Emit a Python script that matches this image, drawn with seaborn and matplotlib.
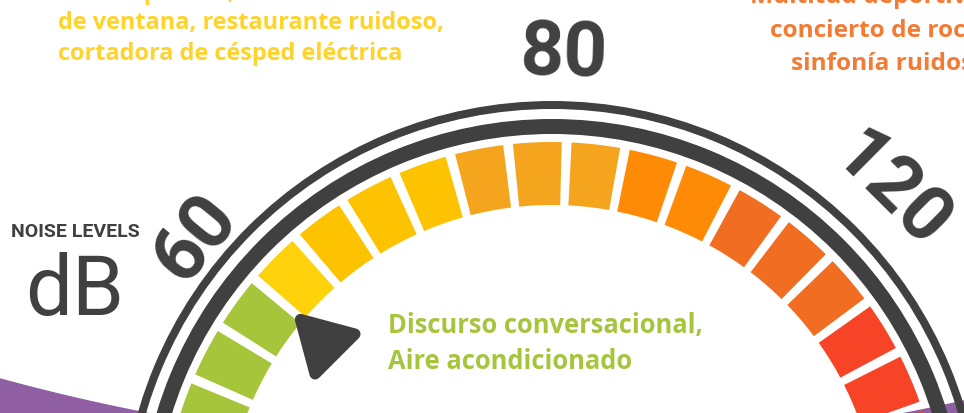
import numpy as np
import matplotlib
import matplotlib.pyplot as plt
import seaborn as sns
from matplotlib.markers import MarkerStyle

# gauge segments, left (bottom) to right (bottom)
segment_colors = ["#A7C53A", "#A7C53A", "#A7C53A", "#FFD20C",
                  "#FDC300", "#FDC300", "#FDC300",
                  "#F5A51D", "#F5A51D", "#F5A51D",
                  "#FE8A06", "#FE8A06",
                  "#F06D22", "#F06D22", "#F06D22",
                  "#F74427", "#F74427", "#F74427"]

# dB tick labels on the dial (angle measured clockwise from straight up)
gauge_labels = ["60", "80", "120"]
label_angle = [-50.5, 1.4, 44.8]
label_radius = [462, 478, 481]

# text blocks
yellow_lines = ["Tráfico pesado, aire acondicionado",
                "de ventana, restaurante ruidoso,",
                "cortadora de césped eléctrica"]
orange_lines = ["Multitud deportiva,",
                "concierto de rock,",
                "sinfonía ruidosa"]
green_lines = ["Discurso conversacional,",
               "Aire acondicionado"]

# pointer (60 dB)
pointer_angle = -50.3
pointer_radius = 297

DARK = "#404040"
PURPLE = "#8F5EA3"
W, H = 964, 413
CX, CY = 552, 532          # dial centre in pixels (below the picture)
RMAX = 500
SEG_IN, SEG_OUT = 327, 390
FIRST, PITCH, GAP_PX = -71.2, 8.63, 9
TXT = ["Open Sans", "DejaVu Sans"]

sns.set_theme(style="white")
plt.rcParams["font.family"] = ["Roboto", "DejaVu Sans"]

fig = plt.figure(figsize=(W / 100, H / 100), dpi=100)
fig.patch.set_facecolor("white")

# background axes in pixel coords
bg = fig.add_axes([0, 0, 1, 1])
bg.set_xlim(0, W)
bg.set_ylim(H, 0)
bg.axis("off")

# purple wave behind the dial
px = np.linspace(0, W, 300)
py = -1540 + np.sqrt(1989 ** 2 - (px - 526) ** 2)
bg.fill_between(px, py, H + 10, color=PURPLE, lw=0)

# polar dial
ax = fig.add_axes([(CX - RMAX) / W, (H - CY - RMAX) / H, 2 * RMAX / W, 2 * RMAX / H],
                  projection="polar")
ax.set_theta_zero_location("N")
ax.set_theta_direction(-1)
ax.set_ylim(0, RMAX)
ax.axis("off")

# rings
ax.bar(0, 8, width=2 * np.pi, bottom=423, color=DARK, lw=0)
ax.bar(0, 15, width=2 * np.pi, bottom=398, color=DARK, lw=0)

# segments
theta = np.deg2rad(FIRST + PITCH * np.arange(len(segment_colors)))
gap = GAP_PX / ((SEG_IN + SEG_OUT) / 2)
ax.bar(theta, SEG_OUT - SEG_IN, width=np.deg2rad(PITCH) - gap, bottom=SEG_IN,
       color=segment_colors, lw=0, align="center")

# dial numbers
for lab, ang, rad in zip(gauge_labels, label_angle, label_radius):
    ax.text(np.deg2rad(ang), rad, lab, rotation=-ang, rotation_mode="anchor",
            ha="center", va="center", fontsize=55, fontweight="bold", color=DARK)

# pointer
ax.plot([np.deg2rad(pointer_angle)], [pointer_radius],
        marker=MarkerStyle((3, 0, 165), joinstyle="round"),
        ms=47, mew=8, color=DARK, mec=DARK)

# texts
for i, line in enumerate(yellow_lines):
    bg.text(58, -1 + 30.5 * i, line, ha="left", va="baseline", family=TXT,
            fontsize=16.9, fontweight="bold", color="#FFD32A")
for i, line in enumerate(orange_lines):
    bg.text(988, 3 + 33.5 * i, line, ha="right", va="baseline", family=TXT,
            fontsize=17.6, fontweight="bold", color="#F47B33")
for i, line in enumerate(green_lines):
    bg.text(388, 333 + 36 * i, line, ha="left", va="baseline", family=TXT,
            fontsize=18.4, fontweight="bold", color="#A6C53D")

bg.text(75, 237, "NOISE LEVELS", ha="center", va="baseline",
        fontsize=14, fontweight="bold", color=DARK)
bg.text(75, 315, "dB", ha="center", va="baseline",
        fontsize=60, color=DARK)

fig.savefig("out.png", dpi=100, facecolor="white")
